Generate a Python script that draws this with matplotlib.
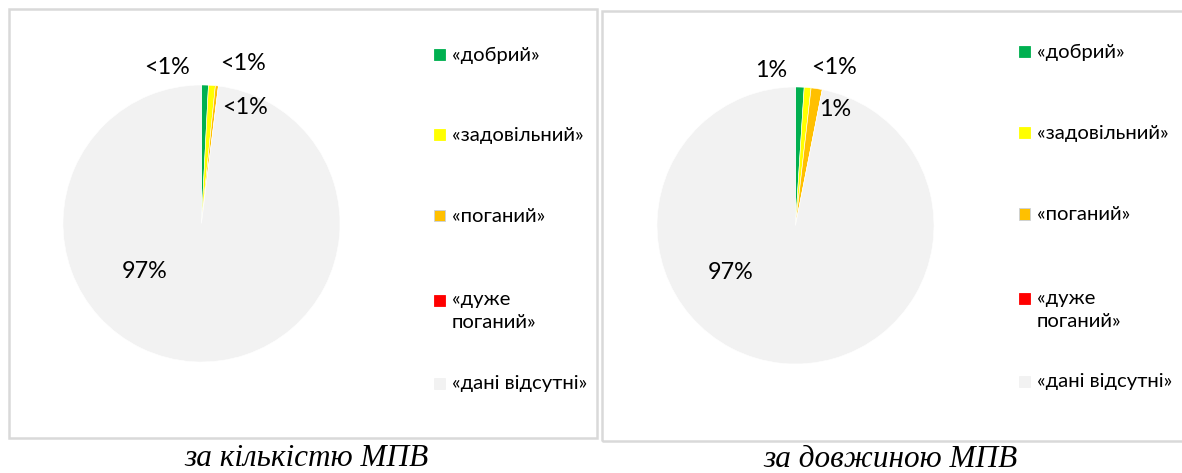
import matplotlib
matplotlib.use("Agg")
import matplotlib.pyplot as plt
from matplotlib.patches import Rectangle

# ---------------- data ----------------
categories = ["«добрий»", "«задовільний»", "«поганий»", "«дуже\nпоганий»", "«дані відсутні»"]
colors = ["#00B050", "#FFFF00", "#FFC000", "#FF0000", "#F2F2F2"]

count_values = [0.8, 0.8, 0.35, 0.0, 98.05]          # за кількістю МПВ, %
count_labels = ["<1%", "<1%", "<1%", "", "97%"]

length_values = [1.0, 0.8, 1.3, 0.0, 96.9]           # за довжиною МПВ, %
length_labels = ["1%", "<1%", "1%", "", "97%"]

captions = ["за кількістю МПВ", "за довжиною МПВ"]

# ---------------- layout ----------------
W, H = 1182, 473
fig = plt.figure(figsize=(W / 100, H / 100), dpi=100)
fig.patch.set_facecolor("white")

FONT = ["Lato", "DejaVu Sans"]

def fx(px):
    return px / W

def fy(py):
    return 1 - py / H

panels = [
    dict(box=(8.5, 8.5, 596.5, 437.5), center=(201.5, 223.5), r=138.5,
         legend_x=434, legend_y=[55, 135, 216, 300, 383],
         caption=(307, 466),
         label_off=[(-0.249, 1.123), (0.300, 1.152), (0.314, 0.834), None, (-0.408, -0.343)],
         values=count_values, labels=count_labels, title=captions[0]),
    dict(box=(602, 11, 1186, 441), center=(795.5, 225.5), r=138.5,
         legend_x=1019, legend_y=[52, 133, 214, 298, 381],
         caption=(891, 466.5),
         label_off=[(-0.177, 1.116), (0.278, 1.144), (0.285, 0.834), None, (-0.466, -0.336)],
         values=length_values, labels=length_labels, title=captions[1]),
]

LEG_FS = 14.6
LINE_STEP = 23

for p in panels:
    x0, y0, x1, y1 = p["box"]
    fig.patches.append(Rectangle((fx(x0), fy(y1)), fx(x1 - x0), (y1 - y0) / H,
                                 transform=fig.transFigure, fill=False,
                                 edgecolor="#D9D9D9", linewidth=1.8, zorder=0))
    cx, cy = p["center"]
    r = p["r"]
    ax = fig.add_axes([fx(cx - r), fy(cy + r), fx(2 * r), 2 * r / H])
    wedges, _ = ax.pie(p["values"], colors=colors, startangle=90, counterclock=False,
                       radius=1.0, wedgeprops=dict(edgecolor="white", linewidth=0.4))
    ax.set_xlim(-1, 1)
    ax.set_ylim(-1, 1)
    ax.set_aspect("equal")
    ax.axis("off")
    for lab, off in zip(p["labels"], p["label_off"]):
        if lab and off is not None:
            ax.text(off[0], off[1], lab, ha="center", va="center", fontsize=16.8,
                    family=FONT, color="#000000", clip_on=False)

    # legend
    lx = p["legend_x"]
    for cat, col, ly in zip(categories, colors, p["legend_y"]):
        sq = 11
        fig.patches.append(Rectangle((fx(lx), fy(ly + sq / 2)), fx(sq), sq / H,
                                     transform=fig.transFigure, facecolor=col,
                                     edgecolor="#C8D0E0" if col == "#FFC000" else col,
                                     linewidth=0.6))
        for i, line in enumerate(cat.split("\n")):
            fig.text(fx(lx + 18), fy(ly + i * LINE_STEP), line, ha="left", va="center",
                     fontsize=LEG_FS, family=FONT, color="#000000")

    # caption (baseline position)
    fig.text(fx(p["caption"][0]), fy(p["caption"][1]), p["title"], ha="center", va="baseline",
             fontsize=22.5, family=["Liberation Serif", "DejaVu Serif"], style="italic",
             color="#000000")

fig.savefig("out.png", dpi=100, facecolor="white")
